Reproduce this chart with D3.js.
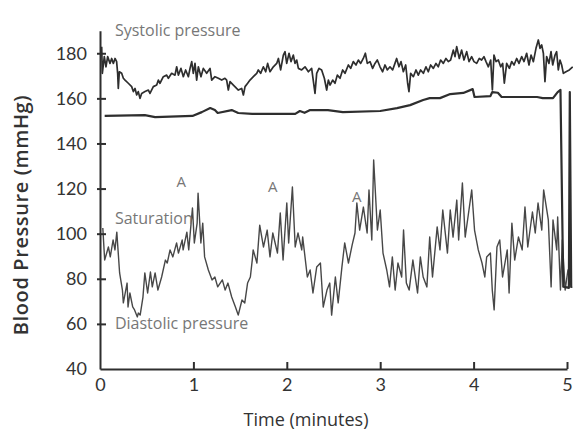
<!DOCTYPE html>
<html>
<head>
<meta charset="utf-8">
<script src="https://cdn.jsdelivr.net/npm/d3@7/dist/d3.min.js"></script>
<style>
html,body{margin:0;padding:0;background:#fff;}
svg{display:block;}
</style>
</head>
<body>
<svg id="chart" width="573" height="432"></svg>
<script>
// ---- data (time in minutes, pressure in mmHg) ----
const sysTime = [0.018,0.025,0.046,0.064,0.082,0.107,0.125,0.143,0.161,0.178,0.189,0.196,0.207,0.232,0.250,0.268,0.303,0.339,0.357,0.375,0.393,0.410,0.428,0.446,0.482,0.518,0.535,0.571,0.607,0.625,0.642,0.678,0.714,0.732,0.767,0.803,0.821,0.839,0.867,0.892,0.917,0.946,0.964,0.982,0.999,1.017,1.035,1.053,1.081,1.106,1.142,1.178,1.196,1.231,1.267,1.303,1.338,1.356,1.374,1.392,1.428,1.463,1.481,1.517,1.535,1.553,1.581,1.606,1.642,1.678,1.695,1.720,1.749,1.774,1.795,1.820,1.856,1.892,1.910,1.934,1.963,1.981,1.999,2.024,2.045,2.070,2.088,2.106,2.124,2.159,2.195,2.231,2.266,2.302,2.320,2.345,2.373,2.402,2.427,2.445,
  2.463,2.491,2.516,2.541,2.570,2.598,2.623,2.659,2.684,2.712,2.741,2.766,2.791,2.819,2.841,2.862,2.891,2.919,2.944,2.969,2.998,3.026,3.051,3.076,3.105,3.133,3.158,3.176,3.201,3.223,3.248,3.273,3.294,3.308,3.326,3.355,3.383,3.408,3.433,3.462,3.490,3.515,3.540,3.569,3.597,3.622,3.647,3.676,3.704,3.729,3.754,3.783,3.801,3.819,3.847,3.872,3.897,3.926,3.951,3.979,4.004,4.033,4.061,4.086,4.111,4.133,4.158,4.183,4.201,4.218,4.240,4.265,4.290,4.311,4.329,4.354,4.383,4.408,4.433,4.461,4.486,4.515,4.540,4.568,4.593,4.615,4.640,4.668,4.693,4.711,4.729,4.747,4.764,4.782,4.807,4.829,4.847,4.872,4.889,4.907,4.925,4.943,4.961,4.989,5.025,5.061];
const systolic = [182.9,171.1,178.5,174.0,178.5,175.5,177.7,175.5,177.7,176.3,171.1,164.4,171.8,171.1,168.9,168.1,166.7,165.2,163.0,164.4,161.5,163.0,160.0,162.2,163.0,163.7,162.2,165.2,165.9,168.1,166.7,169.6,170.3,168.9,171.1,170.3,174.0,170.3,173.3,169.6,172.6,169.6,173.3,176.3,171.1,175.5,168.1,174.0,169.6,173.3,171.1,173.3,168.1,169.6,168.9,168.1,168.9,168.1,163.7,167.4,165.9,164.4,163.7,164.4,161.5,165.2,166.7,168.1,169.6,171.1,172.6,171.1,174.0,171.8,175.5,171.8,174.0,175.5,177.7,172.6,179.2,180.7,175.5,180.0,176.3,179.2,175.5,177.0,173.3,172.6,174.0,171.8,173.3,162.2,171.1,173.3,172.6,168.9,163.7,168.1,
  165.9,168.1,166.7,170.3,168.9,172.6,171.1,174.8,173.3,176.3,174.8,177.0,175.5,177.7,180.0,175.5,176.3,173.3,175.5,177.0,174.0,171.8,174.8,172.6,174.0,172.6,175.5,177.7,174.0,176.3,171.8,174.8,166.7,163.0,171.1,169.6,172.6,170.3,172.6,171.1,174.0,171.8,174.8,173.3,175.5,174.0,177.0,175.5,177.7,176.3,177.0,181.4,178.5,182.9,177.7,181.4,177.0,180.7,176.3,178.5,176.3,175.5,177.7,177.0,178.5,176.3,174.0,177.0,163.7,179.2,176.3,177.0,174.0,175.5,166.7,175.5,173.3,176.3,174.8,177.7,175.5,178.5,176.3,180.0,174.8,179.2,176.3,182.2,185.9,182.2,183.7,180.0,167.4,178.5,175.5,180.7,174.8,179.2,180.7,172.6,177.0,174.8,171.1,171.8,172.6,174.0];

const satTime = [0.05,0.48,0.59,0.99,1.09,1.18,1.23,1.26,1.41,1.48,1.63,2.09,2.14,2.19,2.25,2.44,2.60,3.00,3.18,3.32,3.46,3.53,3.64,3.75,3.89,3.99,4.01,4.18,4.20,4.26,4.30,4.68,4.74,4.85,4.90,4.93,4.96,5.02,5.03,5.045];
const saturation = [152.2,152.6,151.7,152.2,153.9,155.7,154.8,153.5,154.8,153.5,153.1,153.1,154.4,153.6,154.8,154.8,153.9,154.4,155.7,157.0,159.3,160.1,160.1,161.9,162.4,164.1,160.6,161.0,162.8,162.5,160.6,160.6,160.1,160.1,162.8,163.7,76.5,76.0,162.8,76.0];

const diaTime = [0.03,0.05,0.09,0.11,0.14,0.16,0.18,0.21,0.24,0.25,0.29,0.30,0.32,0.35,0.37,0.40,0.41,0.43,0.46,0.48,0.51,0.54,0.56,0.59,0.62,0.66,0.70,0.72,0.75,0.78,0.82,0.84,0.88,0.89,0.93,0.95,0.99,1.01,1.04,1.05,1.08,1.10,1.12,1.16,1.20,1.23,1.26,1.31,1.34,1.37,1.41,1.45,1.48,1.52,1.55,1.58,1.61,1.63,1.64,1.68,1.71,1.75,1.79,1.82,1.85,1.90,1.93,1.96,2.00,2.02,2.06,2.09,2.12,2.16,2.17,2.22,2.25,2.28,2.32,2.36,2.39,2.43,2.46,2.48,2.52,2.55,2.59,2.62,2.66,2.70,2.73,2.75,2.78,2.82,2.86,2.88,2.91,2.93,2.97,3.00,3.03,3.07,3.10,3.13,3.16,3.19,3.23,3.25,3.28,3.31,3.35,3.40,3.43,3.46,3.50,3.53,3.56,3.61,3.64,3.67,3.72,3.75,3.78,3.82,3.84,3.88,3.91,3.94,3.98,4.01,4.05,4.09,4.12,4.14,4.18,4.20,4.22,4.25,4.28,4.31,4.36,4.38,4.41,4.44,4.48,4.52,4.55,4.58,4.63,4.66,4.69,4.73,4.75,4.80,4.83,4.85,4.89,4.90,4.93,4.95,4.98,5.01,5.05];
const diastolic = [102.5,88.3,94.1,89.7,97.2,92.8,100.7,82.6,75.0,69.3,78.1,67.5,73.7,67.5,66.2,63.1,64.8,63.9,71.9,82.6,73.7,83.0,76.4,82.6,75.0,80.8,88.3,87.0,92.8,89.7,95.9,91.4,97.2,92.8,100.7,92.8,111.4,95.9,104.7,118.0,95.9,104.7,89.7,83.9,79.5,80.8,76.4,79.5,75.0,78.1,71.9,67.5,63.9,70.6,69.3,78.1,80.8,88.3,92.8,87.0,103.8,94.1,101.6,89.7,100.3,91.4,109.2,88.3,113.6,95.9,120.7,94.1,100.3,92.8,98.5,80.8,83.9,73.7,85.2,87.0,67.5,75.0,78.1,63.9,80.8,69.3,85.2,95.9,87.0,95.0,100.3,113.6,101.6,111.8,100.3,119.4,97.2,132.7,101.6,110.5,91.4,83.9,76.4,89.7,75.0,87.0,80.8,101.6,78.1,75.0,88.3,73.7,89.7,80.8,76.4,98.5,80.8,103.0,92.8,110.5,91.4,110.5,98.5,114.9,97.2,122.5,98.5,107.4,119.4,101.6,92.8,87.0,80.8,89.7,91.4,75.0,66.2,94.1,97.2,80.8,92.8,73.7,104.7,88.3,98.5,92.8,111.8,94.1,109.6,100.3,113.6,101.6,119.4,106.1,76.4,106.1,92.8,107.4,75.0,97.2,75.0,83.9,76.0];

const yTicks = [40,60,80,100,120,140,160,180];
const xTicks = [0,1,2,3,4,5];

const annotations = [
  {text:"Systolic pressure", t:0.16, v:187.5},
  {text:"Saturation", t:0.16, v:104.4},
  {text:"Diastolic pressure", t:0.16, v:57.8},
];
const markers = [
  {text:"A", t:0.87, v:120.7},
  {text:"A", t:1.85, v:118.5},
  {text:"A", t:2.75, v:114.0},
];

// ---- drawing ----
const svg = d3.select("#chart");
const x = d3.scaleLinear().domain([0,5]).range([100,567]);
const y = d3.scaleLinear().domain([40,190]).range([369,30.7]);

const ink = "#2e2e2e";
const font = "'Open Sans', sans-serif";
const tickFont = "Lato, 'Open Sans', sans-serif";

function drawLine(ts, vs, color, width){
  const pts = ts.map((t,i)=>[t, vs[i]]);
  svg.append("path")
    .datum(pts)
    .attr("fill","none")
    .attr("stroke",color)
    .attr("stroke-width",width)
    .attr("stroke-linejoin","round")
    .attr("d", d3.line().x(d=>x(d[0])).y(d=>y(d[1])));
}

drawLine(diaTime, diastolic, "#474747", 1.4);
drawLine(satTime, saturation, ink, 2.2);
drawLine(sysTime, systolic, ink, 1.7);

// y axis
const gy = svg.append("g").attr("transform","translate(100,0)")
  .call(d3.axisLeft(y).tickValues(yTicks).tickSize(0).tickSizeOuter(0).tickPadding(13));
gy.select(".domain").attr("stroke",ink).attr("stroke-width",2);
gy.selectAll(".tick line").attr("x1",-3).attr("x2",6).attr("stroke",ink).attr("stroke-width",2)
  .filter(d=>d===40).remove();
gy.selectAll(".tick text").attr("fill","#333").style("font-family",tickFont).style("font-size","18px");

// x axis
const gx = svg.append("g").attr("transform","translate(0,369)")
  .call(d3.axisBottom(x).tickValues(xTicks).tickFormat(d3.format("d")).tickSize(-7).tickSizeOuter(0).tickPadding(9));
gx.select(".domain").attr("stroke",ink).attr("stroke-width",2);
gx.selectAll(".tick line").attr("stroke",ink).attr("stroke-width",2)
  .filter(d=>d===0).remove();
gx.selectAll(".tick text").attr("fill","#333").style("font-family",tickFont).style("font-size","18px");

// axis titles
svg.append("text")
  .attr("transform","translate(28,215) rotate(-90)")
  .attr("text-anchor","middle")
  .attr("fill","#333")
  .style("font-family",font).style("font-size","20px").style("font-weight","600")
  .style("letter-spacing","0.6px")
  .text("Blood Pressure (mmHg)");
svg.append("text")
  .attr("x",306).attr("y",426)
  .attr("text-anchor","middle")
  .attr("fill","#333")
  .style("font-family",font).style("font-size","18px")
  .text("Time (minutes)");

// annotations
svg.selectAll("text.ann").data(annotations).enter().append("text")
  .attr("class","ann")
  .attr("x",d=>x(d.t)).attr("y",d=>y(d.v))
  .attr("fill","#777")
  .style("font-family",font).style("font-size","16px")
  .text(d=>d.text);
svg.selectAll("text.mk").data(markers).enter().append("text")
  .attr("class","mk")
  .attr("x",d=>x(d.t)).attr("y",d=>y(d.v))
  .attr("text-anchor","middle")
  .attr("fill","#777")
  .style("font-family",font).style("font-size","15px")
  .text(d=>d.text);
</script>
</body>
</html>
